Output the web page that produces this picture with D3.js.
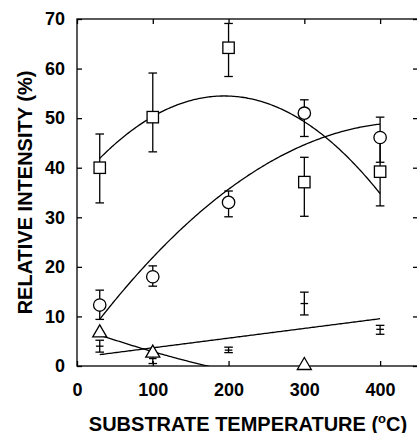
<!DOCTYPE html>
<html>
<head>
<meta charset="utf-8">
<script src="https://cdn.jsdelivr.net/npm/d3@7"></script>
<style>
  html, body { margin: 0; padding: 0; background: #fff; }
  svg { display: block; }
</style>
</head>
<body>
<svg id="chart" width="417" height="433"></svg>
<script>
// Substrate temperature (°C) at which every series was measured
const temps = [30, 100, 200, 300, 400];

// Squares: relative intensity (%) with error-bar bounds
const squareVals = [40.0, 50.2, 64.2, 37.1, 39.2];
const squareHi   = [46.8, 59.1, 69.1, 42.1, 46.1];
const squareLo   = [32.9, 43.2, 58.4, 30.2, 32.3];

// Circles
const circleVals = [12.3, 18.0, 33.0, 51.0, 46.1];
const circleHi   = [15.3, 20.2, 35.3, 53.7, 50.2];
const circleLo   = [9.4, 16.1, 30.1, 46.3, 41.1];

// Triangles (only three temperatures shown)
const triTemps = [30, 100, 300];
const triVals  = [7.1, 3.0, 0.5];
// Decay curve drawn for the triangles (points the curve passes through)
const triFitTemps = [30, 100, 172];
const triFitVals  = [6.25, 2.9, 0];

// Dash-marked series with error-bar bounds
const dashVals = [4.0, 1.5, 3.2, 12.6, 7.4];
const dashHi   = [5.2, 2.5, 3.8, 14.9, 8.2];
const dashLo   = [2.8, 0.5, 2.7, 10.3, 6.4];

const xTicks = [0, 100, 200, 300, 400];
const yTicks = [0, 10, 20, 30, 40, 50, 60, 70];

const FONT = '"Liberation Sans", Arial, Helvetica, sans-serif';

const svg = d3.select("#chart");
const x = d3.scaleLinear().domain([0, 450]).range([77, 418]);
const y = d3.scaleLinear().domain([0, 70]).range([366, 19]);

// Least-squares polynomial fit; returns coefficients c0..cn
function polyfit(xs, ys, deg) {
  const n = deg + 1;
  const A = Array.from({length: n}, () => new Array(n + 1).fill(0));
  xs.forEach((xv, k) => {
    for (let i = 0; i < n; i++) {
      for (let j = 0; j < n; j++) A[i][j] += Math.pow(xv, i + j);
      A[i][n] += ys[k] * Math.pow(xv, i);
    }
  });
  for (let i = 0; i < n; i++) {
    let p = i;
    for (let r = i + 1; r < n; r++) if (Math.abs(A[r][i]) > Math.abs(A[p][i])) p = r;
    [A[i], A[p]] = [A[p], A[i]];
    for (let r = 0; r < n; r++) {
      if (r === i) continue;
      const f = A[r][i] / A[i][i];
      for (let c = i; c <= n; c++) A[r][c] -= f * A[i][c];
    }
  }
  return A.map((row, i) => row[n] / row[i]);
}
const polyEval = (c, t) => c.reduce((s, ci, i) => s + ci * Math.pow(t, i), 0);

// Fitted curve sampled between the first and last temperature (°C);
// the fit works in hundreds of degrees to keep the normal equations well scaled
function fitCurve(xs, ys, deg, from, to) {
  const c = polyfit(xs.map(t => t / 100), ys, deg);
  return d3.range(from, to + 0.01, 2).map(t => [t, polyEval(c, t / 100)]);
}

const clipId = "plotClip";
svg.append("defs").append("clipPath").attr("id", clipId)
  .append("rect").attr("x", 77).attr("y", 19).attr("width", 341).attr("height", 347);

const line = d3.line().x(d => x(d[0])).y(d => y(d[1]));

// Axes with inward ticks
function styleAxis(g) {
  g.select(".domain").remove();
  g.selectAll("line").attr("stroke", "#000").attr("stroke-width", 1.3);
  g.selectAll("text").attr("font-family", FONT).attr("font-weight", "bold")
    .attr("font-size", 18).attr("fill", "#000");
}
svg.append("g").attr("transform", "translate(77,0)")
  .call(d3.axisLeft(y).tickValues(yTicks).tickSizeInner(-5).tickSizeOuter(0).tickPadding(12))
  .call(styleAxis);
svg.append("g").attr("transform", "translate(418,0)")
  .call(d3.axisRight(y).tickValues(yTicks).tickSizeInner(-5).tickSizeOuter(0).tickFormat(""))
  .call(styleAxis);
svg.append("g").attr("transform", "translate(0,366)")
  .call(d3.axisBottom(x).tickValues(xTicks).tickSizeInner(-5).tickSizeOuter(0).tickPadding(17))
  .call(styleAxis);
svg.append("g").attr("transform", "translate(0,19)")
  .call(d3.axisTop(x).tickValues(xTicks).tickSizeInner(-5).tickSizeOuter(0).tickFormat(""))
  .call(styleAxis);

// Plot frame
svg.append("rect").attr("x", 77).attr("y", 19).attr("width", 341).attr("height", 347)
  .attr("fill", "none").attr("stroke", "#000").attr("stroke-width", 1.3);

const plot = svg.append("g").attr("clip-path", `url(#${clipId})`);

function errorBars(hi, lo, xs) {
  const g = plot.append("g").attr("stroke", "#000").attr("stroke-width", 1.3);
  xs.forEach((t, i) => {
    const cx = x(t);
    g.append("line").attr("x1", cx).attr("x2", cx).attr("y1", y(hi[i])).attr("y2", y(lo[i]));
    [hi[i], lo[i]].forEach(v => g.append("line")
      .attr("x1", cx - 4.3).attr("x2", cx + 4.3).attr("y1", y(v)).attr("y2", y(v)));
  });
}
function drawFit(pts) {
  plot.append("path").datum(pts).attr("d", line)
    .attr("fill", "none").attr("stroke", "#000").attr("stroke-width", 1.3);
}

// Fit curves for the lower series
drawFit(fitCurve(temps, dashVals, 1, 30, 400));
drawFit(fitCurve(triFitTemps, triFitVals, 2, 30, 400));
drawFit(fitCurve(temps, circleVals, 2, 30, 400));

// Dash series: error bars with a short centre dash
errorBars(dashHi, dashLo, temps);
plot.append("g").selectAll("line").data(temps).join("line")
  .attr("x1", d => x(d) - 3.8).attr("x2", d => x(d) + 3.8)
  .attr("y1", (d, i) => y(dashVals[i])).attr("y2", (d, i) => y(dashVals[i]))
  .attr("stroke", "#000").attr("stroke-width", 1.3);

// Triangles
svg.append("g").selectAll("path").data(triTemps).join("path")
  .attr("transform", (d, i) => `translate(${x(d)},${y(triVals[i])})`)
  .attr("d", "M0,-6L7,6L-7,6Z")
  .attr("fill", "#fff").attr("stroke", "#000").attr("stroke-width", 1.3);

// Square error bars sit beneath the circles
errorBars(squareHi, squareLo, temps);

// Circles
errorBars(circleHi, circleLo, temps);
plot.append("g").selectAll("circle").data(temps).join("circle")
  .attr("cx", d => x(d)).attr("cy", (d, i) => y(circleVals[i])).attr("r", 6.2)
  .attr("fill", "#fff").attr("stroke", "#000").attr("stroke-width", 1.3);

// Squares with their fitted curve
drawFit(fitCurve(temps, squareVals, 2, 30, 400));
plot.append("g").selectAll("rect").data(temps).join("rect")
  .attr("x", d => x(d) - 5.7).attr("y", (d, i) => y(squareVals[i]) - 5.7)
  .attr("width", 11.4).attr("height", 11.4)
  .attr("fill", "#fff").attr("stroke", "#000").attr("stroke-width", 1.3);

// Axis titles
svg.append("text")
  .attr("transform", "translate(31.5,192.5) rotate(-90)")
  .attr("text-anchor", "middle")
  .attr("font-family", FONT).attr("font-weight", "bold").attr("font-size", 20)
  .text("RELATIVE INTENSITY (%)");

const xt = svg.append("text")
  .attr("x", 248).attr("y", 430.5).attr("text-anchor", "middle")
  .attr("font-family", FONT).attr("font-weight", "bold").attr("font-size", 20);
xt.append("tspan").text("SUBSTRATE TEMPERATURE (");
xt.append("tspan").attr("font-size", 13).attr("dy", -8).text("o");
xt.append("tspan").attr("dy", 8).text("C)");
</script>
</body>
</html>
